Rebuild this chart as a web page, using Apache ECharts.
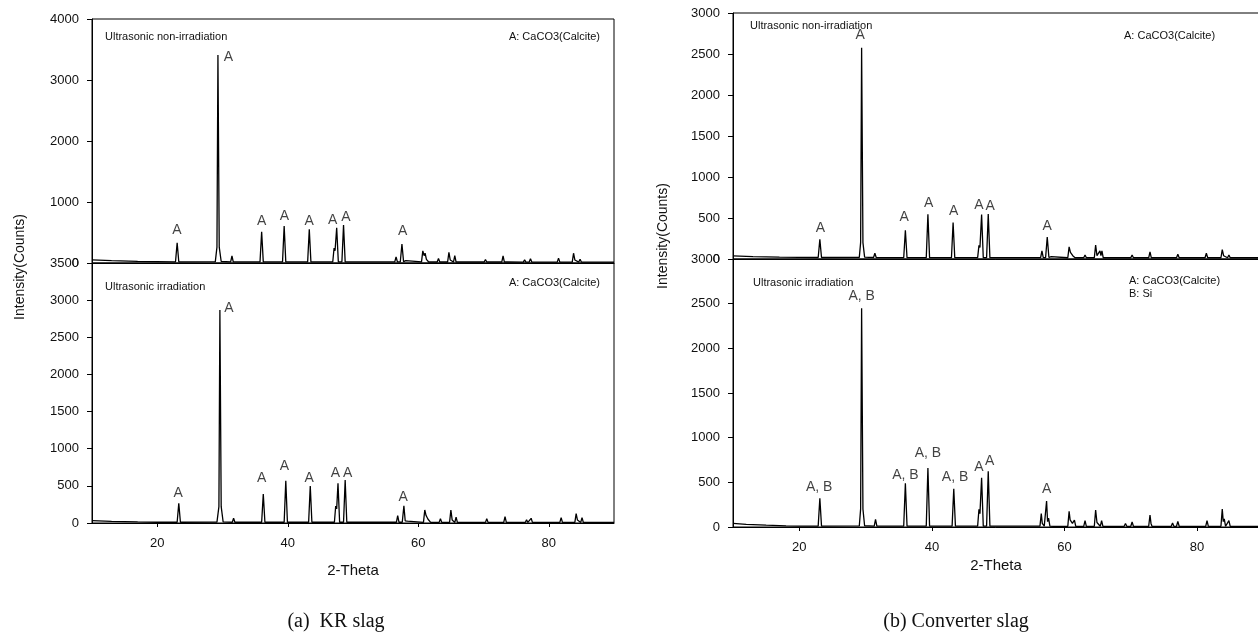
<!DOCTYPE html>
<html>
<head>
<meta charset="utf-8">
<script src="https://cdn.jsdelivr.net/npm/echarts@6/dist/echarts.min.js"></script>
<style>
html, body { margin: 0; padding: 0; background: #fff; }
#chart { width: 1258px; height: 639px; }
</style>
</head>
<body>
<div id="chart"></div>
<script>
// XRD patterns: [2-theta, counts]
const krNon = [[10,50],[13,38],[17,26],[22.8,20],[23.05,333],[23.3,20],[28.9,22],[29.15,260],[29.3,3410],[29.5,260],[29.8,25],[31.25,20],[31.45,115],[31.65,20],[35.75,18],[36.0,513],[36.25,18],[39.2,18],[39.45,607],[39.7,18],[43.05,18],[43.3,552],[43.55,18],[46.9,20],[47.1,245],[47.25,200],[47.5,579],[47.75,20],[48.3,20],[48.55,623],[48.8,18],[56.4,18],[56.6,100],[56.8,20],[57.25,20],[57.5,311],[57.75,22],[58.1,40],[58.3,16],[60.5,18],[60.7,200],[60.9,120],[61.05,160],[61.25,60],[61.4,80],[61.6,16],[62.9,16],[63.1,75],[63.3,16],[64.5,16],[64.7,175],[64.9,50],[65.4,16],[65.6,120],[65.8,16],[69.0,16],[69.2,40],[69.4,16],[70.1,16],[70.3,55],[70.5,16],[72.8,16],[73.0,115],[73.2,16],[73.7,16],[73.85,30],[74.0,15],[76.1,15],[76.3,50],[76.5,15],[77.0,15],[77.2,70],[77.4,15],[81.3,15],[81.5,80],[81.7,15],[83.6,15],[83.8,160],[84.0,50],[84.6,15],[84.8,60],[85.0,15],[86.3,15],[86.5,25],[86.7,15],[90,15]];

const krIrr = [[10,31],[13,22],[17,14],[20,10],[23.05,10],[23.3,265],[23.55,10],[29.15,12],[29.45,220],[29.6,2867],[29.8,220],[30.1,14],[31.5,10],[31.7,63],[31.9,10],[36.0,10],[36.25,390],[36.5,10],[39.45,10],[39.7,569],[39.95,10],[43.2,10],[43.45,498],[43.7,10],[47.15,10],[47.35,229],[47.5,190],[47.7,534],[47.95,10],[48.55,10],[48.8,579],[49.05,10],[56.65,10],[56.85,99],[57.05,10],[57.55,10],[57.8,233],[58.0,30],[58.35,25],[58.55,8],[60.8,8],[61.0,175],[61.2,100],[61.35,110],[61.5,50],[61.7,70],[61.9,8],[63.2,8],[63.4,58],[63.6,8],[64.8,8],[65.0,175],[65.2,40],[65.6,8],[65.8,77],[66.0,8],[69.3,8],[69.5,30],[69.7,8],[70.3,8],[70.5,58],[70.7,8],[73.1,8],[73.3,85],[73.5,8],[74.0,8],[74.2,25],[74.4,8],[76.4,8],[76.6,45],[76.8,8],[77.1,8],[77.3,63],[77.5,8],[81.7,8],[81.9,72],[82.1,8],[84.0,8],[84.2,125],[84.4,40],[84.9,8],[85.1,72],[85.3,8],[86.5,8],[86.7,15],[86.9,8],[90,8]];

const convNon = [[10,37],[13,30],[17,22],[20,20],[22.85,18],[23.1,240],[23.35,18],[29.05,20],[29.25,200],[29.4,2575],[29.6,200],[29.85,22],[31.2,18],[31.4,70],[31.6,18],[35.75,16],[36.0,350],[36.25,16],[39.15,16],[39.4,546],[39.65,16],[42.95,16],[43.2,444],[43.45,16],[46.9,16],[47.1,167],[47.25,140],[47.5,542],[47.75,16],[48.25,16],[48.5,550],[48.75,16],[56.4,16],[56.6,98],[56.8,16],[57.15,16],[57.4,269],[57.65,18],[58.0,30],[58.2,15],[60.5,15],[60.7,147],[60.9,80],[61.05,100],[61.25,40],[61.4,57],[61.6,15],[62.9,15],[63.1,49],[63.3,15],[64.5,15],[64.7,171],[64.9,40],[65.15,35],[65.35,98],[65.5,40],[65.65,98],[65.85,15],[69.0,15],[69.2,37],[69.4,15],[70.0,15],[70.2,49],[70.4,15],[72.7,15],[72.9,86],[73.1,15],[73.55,15],[73.7,25],[73.85,15],[76.1,15],[76.3,37],[76.5,15],[76.9,15],[77.1,57],[77.3,15],[81.2,15],[81.4,70],[81.6,15],[83.6,15],[83.8,114],[84.0,40],[84.6,15],[84.8,49],[85.0,15],[85.8,15],[86.0,22],[86.2,15],[90,15]];

const convIrr = [[10,41],[12,30],[15,20],[18,12],[20,10],[22.85,10],[23.1,321],[23.35,10],[29.05,12],[29.25,200],[29.4,2449],[29.6,200],[29.85,14],[31.3,10],[31.5,86],[31.7,10],[35.75,10],[36.0,489],[36.25,10],[39.15,10],[39.4,661],[39.65,10],[43.05,10],[43.3,429],[43.55,10],[46.9,10],[47.1,198],[47.25,150],[47.5,552],[47.75,10],[48.25,10],[48.5,624],[48.75,10],[56.3,10],[56.5,149],[56.65,40],[56.8,60],[56.95,10],[57.1,20],[57.3,291],[57.45,60],[57.6,100],[57.8,10],[58.1,25],[58.3,8],[60.5,8],[60.7,176],[60.85,80],[61.0,100],[61.2,40],[61.5,78],[61.7,8],[62.9,8],[63.1,71],[63.3,8],[64.5,8],[64.7,190],[64.9,50],[65.4,8],[65.6,71],[65.8,8],[69.0,8],[69.2,40],[69.4,8],[70.0,8],[70.2,56],[70.4,8],[72.7,8],[72.9,134],[73.05,40],[73.2,8],[73.55,8],[73.7,20],[73.85,8],[76.1,8],[76.3,45],[76.5,8],[76.9,8],[77.1,63],[77.3,8],[81.3,8],[81.5,71],[81.7,8],[83.6,8],[83.8,201],[83.95,60],[84.1,90],[84.3,8],[84.6,8],[84.8,71],[85.0,8],[86.2,8],[86.4,20],[86.6,8],[90,8]];

// peak labels: [2-theta, counts, text]
const krNonLabels = [[23.0,541,'A'],[30.9,3377,'A'],[36.0,693,'A'],[39.5,775,'A'],[43.3,693,'A'],[46.9,705,'A'],[48.9,749,'A'],[57.6,530,'A']];
const krIrrLabels = [[23.2,408,'A'],[31.0,2894,'A'],[36.0,605,'A'],[39.5,771,'A'],[43.3,610,'A'],[47.3,677,'A'],[49.2,677,'A'],[57.7,350,'A']];
const convNonLabels = [[23.2,371,'A'],[29.2,2730,'A'],[35.8,505,'A'],[39.5,682,'A'],[43.3,579,'A'],[47.1,661,'A'],[48.8,640,'A'],[57.4,400,'A']];
const convIrrLabels = [[23.0,451,'A, B'],[29.4,2587,'A, B'],[36.0,575,'A, B'],[39.4,825,'A, B'],[43.5,557,'A, B'],[47.1,668,'A'],[48.7,736,'A'],[57.3,429,'A']];

const xTicks = [20, 40, 60, 80];
const krTopMax = 4000, krBotMax = 3500, convTopMax = 3000, convBotMax = 3000;

const FONT = 'Liberation Sans, Arial, sans-serif';
const chart = echarts.init(document.getElementById('chart'));

// right panel runs past the image edge, as in the source figure
const grids = [
  { left: 92, width: 522, top: 19, height: 244 },
  { left: 92, width: 522, top: 263, height: 260 },
  { left: 733, width: 537, top: 13, height: 246 },
  { left: 733, width: 537, top: 259, height: 268 }
].map(g => Object.assign(g, { show: true, borderColor: '#000', borderWidth: 1, outerBoundsMode: 'none', containLabel: false }));

function xAx (i, max, bottom, title) {
  return {
    type: 'value', gridIndex: i, min: 10, max: max,
    splitLine: { show: false },
    axisLine: { lineStyle: { color: '#000', width: 1 } },
    axisTick: { show: bottom, length: 4, customValues: xTicks, lineStyle: { color: '#000' } },
    axisLabel: { show: bottom, customValues: xTicks, margin: 14, fontSize: 13, color: '#111', fontFamily: FONT },
    name: title ? '2-Theta' : '', nameLocation: 'middle', nameGap: 40,
    nameTextStyle: { fontSize: 15, color: '#111', fontFamily: FONT }
  }
}
function yAx (i, max, step) {
  return {
    type: 'value', gridIndex: i, min: 0, max: max, interval: step,
    splitLine: { show: false },
    axisLine: { show: true, lineStyle: { color: '#000', width: 1 } },
    axisTick: { show: true, length: 5, lineStyle: { color: '#000' } },
    axisLabel: { margin: 13, fontSize: 13, color: '#111', fontFamily: FONT, formatter: v => String(v) }
  }
}
function lineS (i, data) {
  return { type: 'line', xAxisIndex: i, yAxisIndex: i, data: data, symbol: 'none', smooth: false,
    lineStyle: { color: '#000', width: 1.3 }, silent: true, animation: false }
}
function labelS (i, data) {
  return { type: 'scatter', xAxisIndex: i, yAxisIndex: i, data: data, symbolSize: 1,
    itemStyle: { color: 'transparent' }, silent: true, animation: false,
    label: { show: true, position: 'inside', formatter: p => p.data[2], fontSize: 14, color: '#111', fontFamily: FONT } }
}
function txt (x, y, text, size, align, fam) {
  return { type: 'text', x: x, y: y, silent: true,
    style: { text: text, font: size + 'px ' + (fam || FONT), fill: '#111', align: align || 'left', verticalAlign: 'middle' } }
}

const option = {
  animation: false,
  grid: grids,
  xAxis: [xAx(0, 90, false, false), xAx(1, 90, true, true), xAx(2, 91, false, false), xAx(3, 91, true, false)],
  yAxis: [yAx(0, krTopMax, 1000), yAx(1, krBotMax, 500), yAx(2, convTopMax, 500), yAx(3, convBotMax, 500)],
  series: [
    lineS(0, krNon), lineS(1, krIrr), lineS(2, convNon), lineS(3, convIrr),
    labelS(0, krNonLabels), labelS(1, krIrrLabels), labelS(2, convNonLabels), labelS(3, convIrrLabels)
  ],
  graphic: [
    txt(105, 37, 'Ultrasonic non-irradiation', 11),
    txt(600, 37, 'A: CaCO3(Calcite)', 11, 'right'),
    txt(105, 287, 'Ultrasonic irradiation', 11),
    txt(600, 283, 'A: CaCO3(Calcite)', 11, 'right'),
    txt(750, 26, 'Ultrasonic non-irradiation', 11),
    txt(1124, 36, 'A: CaCO3(Calcite)', 11),
    txt(753, 283, 'Ultrasonic irradiation', 11),
    txt(1129, 281, 'A: CaCO3(Calcite)', 11),
    txt(1129, 294, 'B: Si', 11),
    txt(996, 566, '2-Theta', 15, 'center'),
    Object.assign(txt(20, 267, 'Intensity(Counts)', 14, 'center'), { rotation: Math.PI / 2 }),
    Object.assign(txt(663, 236, 'Intensity(Counts)', 14, 'center'), { rotation: Math.PI / 2 }),
    txt(336, 622, '(a)  KR slag', 20, 'center', 'Liberation Serif, Times New Roman, serif'),
    txt(956, 622, '(b) Converter slag', 20, 'center', 'Liberation Serif, Times New Roman, serif')
  ]
};
chart.setOption(option);
</script>
</body>
</html>
